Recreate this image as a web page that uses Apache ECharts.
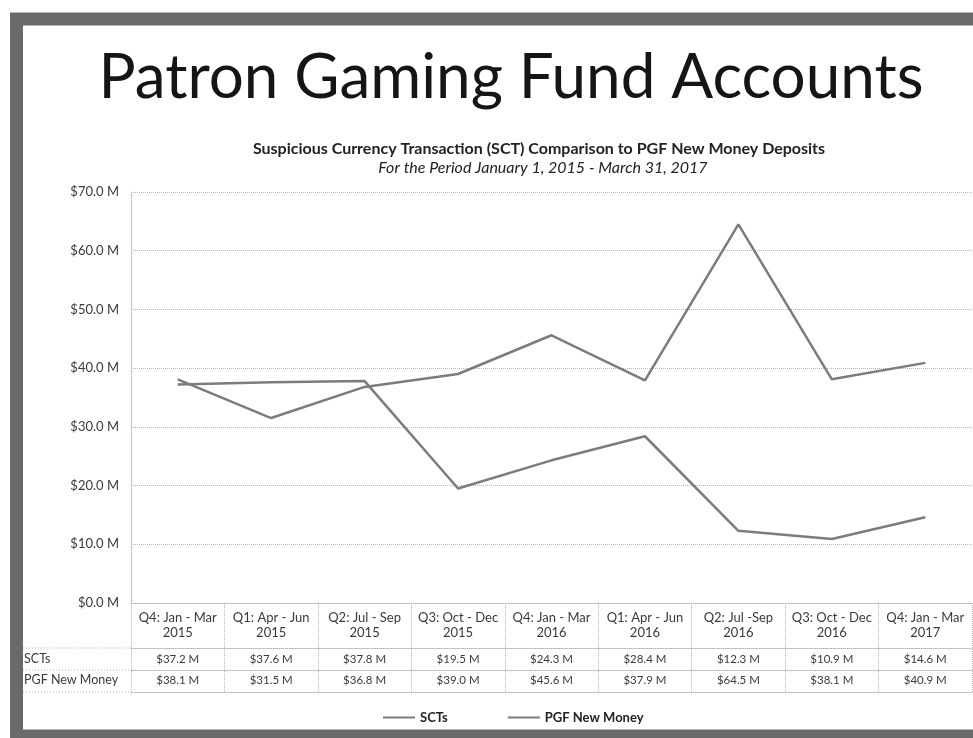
<!DOCTYPE html>
<html>
<head>
<meta charset="utf-8">
<title>Patron Gaming Fund Accounts</title>
<script src="https://cdn.jsdelivr.net/npm/echarts@6/dist/echarts.min.js"></script>
<style>
  html, body { margin: 0; padding: 0; background: #fff; }
  #chart { width: 973px; height: 738px; }
</style>
</head>
<body>
<div id="chart"></div>
<script>
// quarters shown under the plot
var quarters = [
  'Q4: Jan - Mar\n2015', 'Q1: Apr - Jun\n2015', 'Q2: Jul - Sep\n2015',
  'Q3: Oct - Dec\n2015', 'Q4: Jan - Mar\n2016', 'Q1: Apr - Jun\n2016',
  'Q2: Jul -Sep\n2016', 'Q3: Oct - Dec\n2016', 'Q4: Jan - Mar\n2017'
];
// values in millions of dollars
var sctValues = [37.2, 37.6, 37.8, 19.5, 24.3, 28.4, 12.3, 10.9, 14.6];
var pgfValues = [38.1, 31.5, 36.8, 39.0, 45.6, 37.9, 64.5, 38.1, 40.9];
var yTicks = [0, 10, 20, 30, 40, 50, 60, 70];

function money(v) {
  return '$' + v.toFixed(1) + ' M';
}

var chart = echarts.init(document.getElementById('chart'));
var font = 'Lato, "Open Sans", sans-serif';
var textGray = '#3a3a3a';
var gridLine = { color: '#b5b5b5', type: 'dotted', width: 1 };

var option = {
  animation: false,
  backgroundColor: '#fff',
  textStyle: { fontFamily: font },
  title: [
    {
      text: 'Patron Gaming Fund Accounts',
      left: 506, top: 42, textAlign: 'center',
      textStyle: { fontFamily: font, fontSize: 62, fontWeight: 'normal', color: '#151515' }
    },
    {
      text: 'Suspicious Currency Transaction (SCT) Comparison to PGF New Money Deposits',
      left: 534, top: 136, textAlign: 'center',
      textStyle: { fontFamily: font, fontSize: 16, fontWeight: 'bold', color: '#222' }
    },
    {
      text: 'For the Period January 1, 2015 - March 31, 2017',
      left: 538, top: 155, textAlign: 'center',
      textStyle: { fontFamily: font, fontSize: 16, fontStyle: 'italic', fontWeight: 'normal', color: '#222' }
    }
  ],
  legend: {
    left: 378, top: 706,
    icon: 'rect', itemWidth: 32, itemHeight: 2, itemGap: 60,
    textStyle: { fontFamily: font, fontSize: 13, fontWeight: 'bold', color: '#222' },
    data: ['SCTs', 'PGF New Money']
  },
  grid: { left: 131, right: 1, top: 192, bottom: 135 },
  xAxis: [
    {
      type: 'category',
      data: quarters,
      axisLine: { lineStyle: gridLine },
      axisTick: { show: true, length: 89, lineStyle: gridLine },
      axisLabel: { interval: 0, fontSize: 13, lineHeight: 15, margin: 7, color: textGray }
    },
    {
      type: 'category',
      position: 'bottom', offset: 45,
      data: sctValues.map(money),
      axisLine: { lineStyle: gridLine },
      axisTick: { show: false },
      axisLabel: { interval: 0, fontSize: 11.5, margin: 5, color: textGray }
    },
    {
      type: 'category',
      position: 'bottom', offset: 67,
      data: pgfValues.map(money),
      axisLine: { lineStyle: gridLine },
      axisTick: { show: false },
      axisLabel: { interval: 0, fontSize: 11.5, margin: 4, color: textGray }
    },
    {
      type: 'category',
      position: 'bottom', offset: 89,
      data: quarters,
      axisLine: { lineStyle: gridLine },
      axisTick: { show: false },
      axisLabel: { show: false }
    }
  ],
  yAxis: {
    type: 'value',
    min: yTicks[0], max: yTicks[yTicks.length - 1], interval: 10,
    axisLine: { show: true, lineStyle: gridLine },
    axisTick: { show: false },
    splitLine: { lineStyle: gridLine },
    axisLabel: { fontSize: 13, margin: 12, color: textGray, formatter: money }
  },
  series: [
    {
      name: 'SCTs', type: 'line', data: sctValues, symbol: 'none',
      lineStyle: { color: '#7c7c7c', width: 2.5 }, itemStyle: { color: '#7c7c7c' }
    },
    {
      name: 'PGF New Money', type: 'line', data: pgfValues, symbol: 'none',
      lineStyle: { color: '#7c7c7c', width: 2.5 }, itemStyle: { color: '#7c7c7c' }
    }
  ],
  graphic: [
    // scanned frame
    { type: 'rect', shape: { x: 16.5, y: 19, width: 1000, height: 717 },
      style: { fill: 'none', stroke: '#6a6a6a', lineWidth: 13 }, z: 10 },
    // row header column of the data table
    { type: 'line', shape: { x1: 23, y1: 648, x2: 131, y2: 648 }, style: { stroke: '#b5b5b5', lineDash: [1, 2] } },
    { type: 'line', shape: { x1: 23, y1: 670, x2: 131, y2: 670 }, style: { stroke: '#b5b5b5', lineDash: [1, 2] } },
    { type: 'line', shape: { x1: 23, y1: 692, x2: 131, y2: 692 }, style: { stroke: '#b5b5b5', lineDash: [1, 2] } },
    { type: 'text', left: 24, top: 652,
      style: { text: 'SCTs', font: '12.5px ' + font, fill: textGray } },
    { type: 'text', left: 24, top: 673,
      style: { text: 'PGF New Money', font: '12.5px ' + font, fill: textGray } }
  ]
};

chart.setOption(option);
</script>
</body>
</html>
